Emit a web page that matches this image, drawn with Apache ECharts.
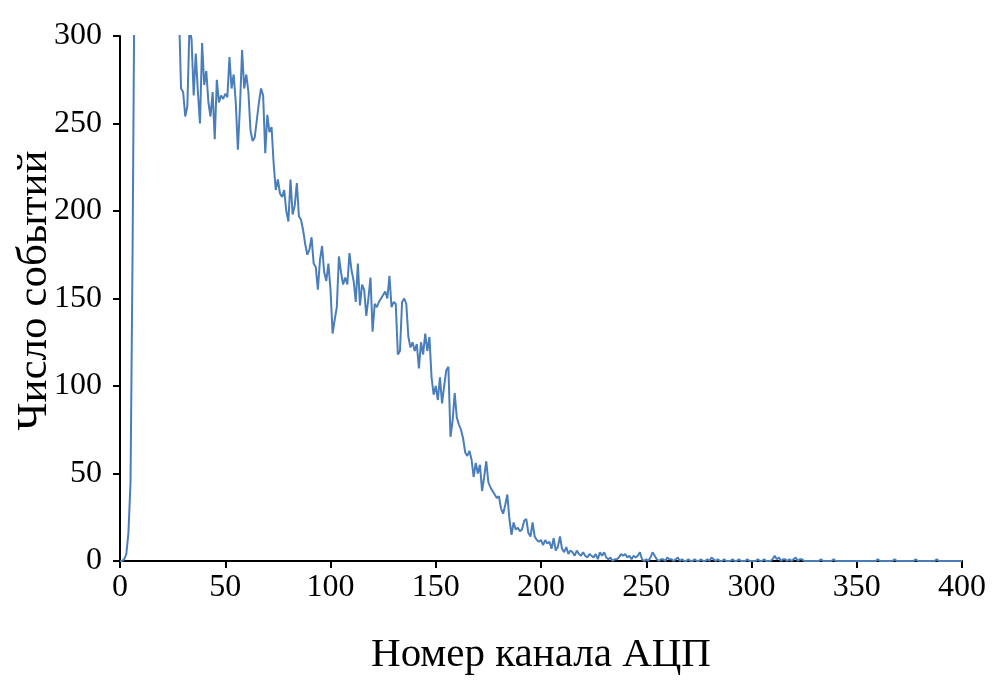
<!DOCTYPE html>
<html>
<head>
<meta charset="utf-8">
<script src="https://cdn.jsdelivr.net/npm/echarts@6/dist/echarts.min.js"></script>
<style>
html,body{margin:0;padding:0;background:#fff;}
#chart{width:1008px;height:697px;}
</style>
</head>
<body>
<div id="chart"></div>
<script>
// Counts per ADC channel (channel = index)
const counts000 = [0,0,1,4,16,45,180,360,520,680,
  800,900,950,980,960,930,880,820,760,700,
  640,590,540,490,450,410,370,340,315,270,
  268,254,260,305,298,266,290,268,250,296,
  272,280,262,254,268,241,275,262,266,264,
  267,265,288,270,278,262,235,260,292,270,
  278,268,246,240,242,252,262,270,266,233,
  255,245,248,227,212,218,210,208,212,200,
  194,218,198,203,216,197,195,189,181,175,
  178,185,170,168,155,172,180,165,160,170];
const counts100 = [155,130,138,145,174,165,158,162,158,176,
  166,160,148,170,146,158,155,140,150,162,
  131,147,145,148,150,152,154,150,163,145,
  148,147,118,120,148,150,147,128,122,125,
  120,124,110,125,118,130,120,128,105,95,
  100,92,105,90,100,109,111,71,80,96,
  82,78,75,70,62,60,63,58,48,56,
  50,55,40,48,57,45,42,40,38,36,
  37,30,27,32,38,24,15,22,18,19,
  17,18,23,24,16,14,22,14,12,11];
const counts200 = [12,9,12,10,11,7,13,6,8,14,
  7,5,8,4,6,5,3,6,4,3,
  5,3,2,4,3,2,4,1,5,3,
  5,2,1,2,0,1,1,2,4,3,
  4,2,3,1,3,2,3,5,1,0,
  1,0,2,5,3,1,0,1,1,0,
  2,1,1,0,1,2,0,1,0,0,
  1,0,0,1,0,0,1,0,0,1,
  0,2,1,0,1,0,0,1,0,0,
  0,1,0,0,1,0,0,0,1,0];
const counts300 = [0,0,0,1,0,0,1,0,0,0,
  1,3,1,2,0,1,1,0,1,0,
  1,2,0,1,1,0,0,0,0,0,
  0,0,0,1,0,0,0,0,0,1,
  0,0,0,0,0,0,0,0,0,0,
  0,0,0,0,0,0,0,0,0,0,
  1,0,0,0,0,0,0,0,1,0,
  0,0,0,0,0,0,0,0,1,0,
  0,0,0,0,0,0,0,0,1,0,
  0,0,0,0,0,0,0,0,0,0,0];

const xTicks = [0,50,100,150,200,250,300,350,400];
const yTicks = [0,50,100,150,200,250,300];
const xTitle = 'Номер канала АЦП';
const yTitle = 'Число событий';

const counts = counts000.concat(counts100, counts200, counts300);
const points = counts.map((v, i) => [i, v]);

const chart = echarts.init(document.getElementById('chart'), null, {renderer: 'canvas'});
const font = '"Liberation Serif", "Times New Roman", serif';
chart.setOption({
  animation: false,
  backgroundColor: '#ffffff',
  grid: {left: 120, right: 46, top: 36, bottom: 136, containLabel: false, outerBoundsMode: 'none'},
  xAxis: {
    type: 'value',
    min: xTicks[0], max: xTicks[xTicks.length - 1], interval: 50,
    name: xTitle, nameLocation: 'middle', nameGap: 74, nameMoveOverlap: false,
    nameTextStyle: {fontFamily: font, fontSize: 41, color: '#000'},
    axisLine: {show: true, onZero: false, lineStyle: {color: '#000', width: 2}},
    axisTick: {show: true, inside: false, length: 7, lineStyle: {color: '#000', width: 2}},
    axisLabel: {fontFamily: font, fontSize: 32, color: '#000', margin: 11},
    splitLine: {show: false}
  },
  yAxis: {
    type: 'value',
    min: yTicks[0], max: yTicks[yTicks.length - 1], interval: 50,
    name: yTitle, nameLocation: 'middle', nameGap: 64, nameMoveOverlap: false,
    nameTextStyle: {fontFamily: font, fontSize: 43, color: '#000', padding: [0, 0, 0, 16]},
    axisLine: {show: true, onZero: false, lineStyle: {color: '#000', width: 2}},
    axisTick: {show: true, inside: false, length: 7, lineStyle: {color: '#000', width: 2}},
    axisLabel: {fontFamily: font, fontSize: 32, color: '#000', margin: 18},
    splitLine: {show: false}
  },
  series: [{
    type: 'line',
    data: points,
    showSymbol: false,
    symbol: 'none',
    clip: true,
    lineStyle: {color: '#4a7ebb', width: 2},
    z: 1
  }]
});
</script>
</body>
</html>
